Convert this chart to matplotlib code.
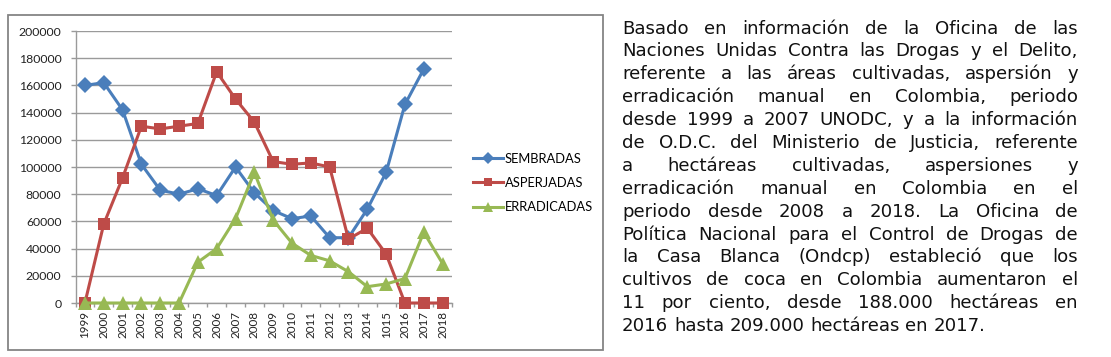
import matplotlib
matplotlib.use("Agg")
import matplotlib.pyplot as plt
import numpy as np
from matplotlib.patches import Rectangle
from matplotlib.ticker import FixedLocator

# ---------------- data ----------------
years = ["1999", "2000", "2001", "2002", "2003", "2004", "2005", "2006", "2007", "2008",
         "2009", "2010", "2011", "2012", "2013", "2014", "1015", "2016", "2017", "2018"]
sembradas = [160000, 162000, 142000, 102000, 83000, 80000, 84000, 79000, 100000, 81000,
             68000, 62000, 64000, 48000, 48000, 69000, 96000, 146000, 172000, np.nan]
asperjadas = [0, 58000, 92000, 130000, 128000, 130000, 132000, 170000, 150000, 133000,
              104000, 102000, 103000, 100000, 47000, 55000, 36000, 0, 0, 0]
erradicadas = [0, 0, 0, 0, 0, 0, 30000, 40000, 62000, 96000,
               61000, 44000, 35000, 31000, 23000, 12000, 14000, 18000, 52000, 29000]
series_names = ["SEMBRADAS", "ASPERJADAS", "ERRADICADAS"]
y_ticks = [0, 20000, 40000, 60000, 80000, 100000, 120000, 140000, 160000, 180000, 200000]

paragraph_lines = [
    "Basado en información de la Oficina de las",
    "Naciones Unidas Contra las Drogas y el Delito,",
    "referente a las áreas cultivadas, aspersión y",
    "erradicación manual en Colombia, periodo",
    "desde 1999 a 2007 UNODC, y a la información",
    "de O.D.C.  del Ministerio de Justicia, referente",
    "a hectáreas cultivadas, aspersiones y",
    "erradicación manual en Colombia en el",
    "periodo desde 2008 a 2018. La Oficina de",
    "Política Nacional para el Control de Drogas de",
    "la Casa Blanca (Ondcp)  estableció que los",
    "cultivos de coca en Colombia aumentaron el",
    "11 por ciento, desde 188.000 hectáreas en",
    "2016 hasta 209.000 hectáreas en 2017.",
]

# ---------------- figure ----------------
W, H = 1111, 357
fig = plt.figure(figsize=(W / 100, H / 100), dpi=100)
fig.patch.set_facecolor("white")

def fx(px):
    return px / W

def fy(py):
    return 1 - py / H

# outer chart frame
fig.patches.append(Rectangle((fx(8), fy(350)), fx(603) - fx(8), fy(15) - fy(350),
                             transform=fig.transFigure, fill=False,
                             edgecolor="#858585", linewidth=1.3))

ax_left, ax_right, ax_top, ax_bottom = 75.5, 452, 31, 303
ax = fig.add_axes([fx(ax_left), fy(ax_bottom), fx(ax_right) - fx(ax_left),
                   fy(ax_top) - fy(ax_bottom)])

x = np.arange(len(years))
colors = ["#4A7EBB", "#BE4B48", "#98B954"]
markers = ["D", "s", "^"]
msizes = [8.5, 8.5, 9.5]
data = [sembradas, asperjadas, erradicadas]
for vals, c, m, ms, name in zip(data, colors, markers, msizes, series_names):
    ax.plot(x, vals, color=c, marker=m, markersize=ms, linewidth=2.2,
            markeredgewidth=0, label=name, clip_on=False, zorder=3)

ax.set_xlim(-0.5, len(years) - 0.5)
ax.set_ylim(0, 200000)
ax.set_yticks(y_ticks)
ax.set_yticklabels([str(v) for v in y_ticks], fontsize=8.8, family="Lato", color="#222222")
ax.set_xticks(x)
ax.set_xticklabels(years, rotation=90, fontsize=8.4, family="Lato", color="#222222")
ax.xaxis.set_minor_locator(FixedLocator(np.arange(-0.5, len(years), 1.0)))
ax.tick_params(axis="x", which="major", length=0, pad=6)
ax.tick_params(axis="x", which="minor", length=3.2, color="#9a9a9a", width=1)
ax.tick_params(axis="y", which="major", length=3.6, color="#9a9a9a", width=1, pad=6.5)
ax.grid(axis="y", color="#9a9a9a", linewidth=1)
ax.set_axisbelow(True)
for s in ["top", "right"]:
    ax.spines[s].set_visible(False)
for s in ["left", "bottom"]:
    ax.spines[s].set_color("#9a9a9a")
    ax.spines[s].set_linewidth(1)

leg = ax.legend(loc="center left", bbox_to_anchor=(fx(473), fy(183)),
                bbox_transform=fig.transFigure, frameon=False, numpoints=1,
                handlelength=2.3, handletextpad=0.15, labelspacing=0.95,
                borderpad=0, borderaxespad=0, markerscale=0.75,
                prop={"family": "Lato", "size": 9.3})

# ---------------- justified paragraph ----------------
fig.canvas.draw()
renderer = fig.canvas.get_renderer()
para_font = dict(family="DejaVu Sans", size=13.1, color="#111111")

def text_width(s):
    t = fig.text(0, 0, s, **para_font)
    w = t.get_window_extent(renderer).width
    t.remove()
    return w

x0, x1 = 622, 1078
base0, step = 33.5, 22.9
space_w = text_width("a a") - text_width("aa")
for i, line in enumerate(paragraph_lines):
    words = line.split()
    widths = [text_width(w) for w in words]
    if i == len(paragraph_lines) - 1 or len(words) == 1:
        gap = space_w
    else:
        gap = (x1 - x0 - sum(widths)) / (len(words) - 1)
    cx = x0
    yb = base0 + i * step
    for w, wd in zip(words, widths):
        fig.text(fx(cx), fy(yb), w, ha="left", va="baseline", **para_font)
        cx += wd + gap

fig.savefig("out.png", dpi=100, facecolor="white")
